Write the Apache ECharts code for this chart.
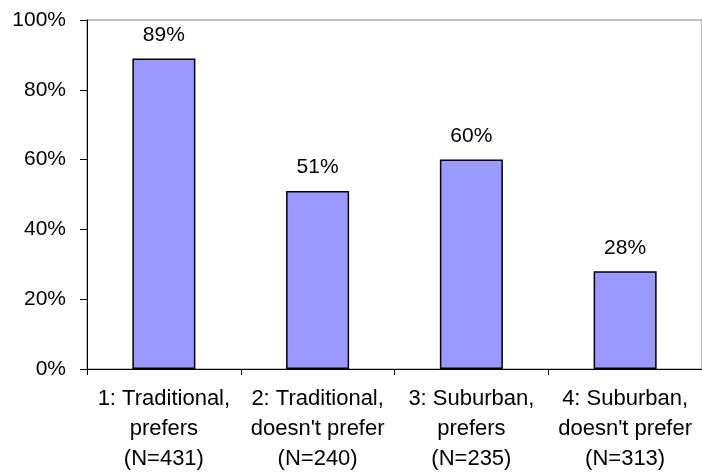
<!DOCTYPE html>
<html>
<head>
<meta charset="utf-8">
<script src="https://cdn.jsdelivr.net/npm/echarts@6/dist/echarts.min.js"></script>
<style>
    html, body {margin: 0; padding: 0; background: #fff;}
    #chart {width: 702px; height: 474px;}
</style>
</head>
<body>
<div id="chart"></div>
<script>
const categories = [
    '1: Traditional,\nprefers\n(N=431)',
    "2: Traditional,\ndoesn't prefer\n(N=240)",
    '3: Suburban,\nprefers\n(N=235)',
    "4: Suburban,\ndoesn't prefer\n(N=313)"
];
const shares = [89, 51, 60, 28];

const fontFamily = '"Liberation Sans", Arial, sans-serif';

let myChart = echarts.init(document.getElementById('chart'));
let option = {
    animation: false,
    grid: {
        left: 87,
        right: -3,
        top: 20,
        bottom: 105,
        show: true,
        borderColor: '#808080',
        borderWidth: 1
    },
    xAxis: {
        type: 'category',
        data: categories,
        axisLine: {lineStyle: {color: '#000', width: 1}},
        axisTick: {show: true, interval: 0, length: 6, lineStyle: {color: '#000'}},
        axisLabel: {
            interval: 0,
            hideOverlap: false,
            color: '#000',
            fontFamily: fontFamily,
            fontSize: 22,
            lineHeight: 30,
            margin: 15
        }
    },
    yAxis: {
        type: 'value',
        min: 0,
        max: 100,
        interval: 20,
        axisLine: {show: true, lineStyle: {color: '#000', width: 1}},
        axisTick: {show: true, length: 7, lineStyle: {color: '#000'}},
        splitLine: {show: false},
        axisLabel: {
            color: '#000',
            fontFamily: fontFamily,
            fontSize: 21,
            margin: 21,
            formatter: '{value}%'
        }
    },
    series: [{
        type: 'bar',
        data: shares,
        barWidth: '41%',
        itemStyle: {
            color: '#9999FF',
            borderColor: '#000',
            borderWidth: 1.5
        },
        label: {
            show: true,
            position: 'top',
            distance: 13,
            color: '#000',
            fontFamily: fontFamily,
            fontSize: 21,
            formatter: '{c}%'
        }
    }]
};
myChart.setOption(option);
</script>
</body>
</html>
